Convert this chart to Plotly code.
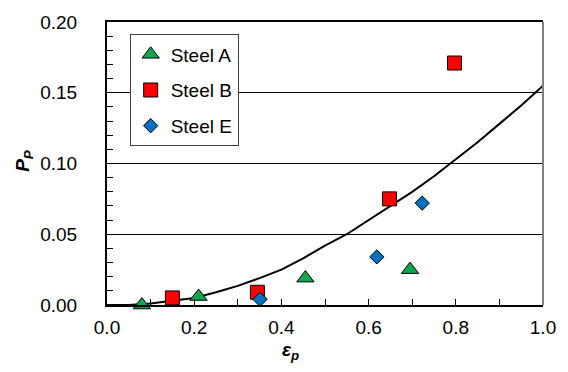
import plotly.graph_objects as go

# Steel A (triangles)
steel_a_x = [0.08, 0.21, 0.455, 0.695]
steel_a_y = [0.000, 0.006, 0.019, 0.025]
# Steel B (squares)
steel_b_x = [0.15, 0.345, 0.648, 0.797]
steel_b_y = [0.005, 0.009, 0.075, 0.171]
# Steel E (diamonds)
steel_e_x = [0.351, 0.619, 0.723]
steel_e_y = [0.004, 0.034, 0.072]
# Fitted curve
curve_x = [0.00, 0.05, 0.10, 0.15, 0.20, 0.25, 0.30, 0.35, 0.40, 0.45, 0.50,
           0.55, 0.60, 0.65, 0.70, 0.75, 0.80, 0.85, 0.90, 0.95, 1.00]
curve_y = [0.000, 0.000, 0.001, 0.003, 0.005, 0.009, 0.0135, 0.019, 0.025, 0.033, 0.042,
           0.050, 0.060, 0.070, 0.080, 0.091, 0.103, 0.115, 0.128, 0.141, 0.155]

FONT = "Liberation Sans, Arial, sans-serif"

fig = go.Figure()
fig.add_trace(go.Scatter(x=curve_x, y=curve_y, mode="lines", showlegend=False,
                         line=dict(color="black", width=2), hoverinfo="skip"))
fig.add_trace(go.Scatter(x=steel_a_x, y=steel_a_y, mode="markers", name="Steel A",
                         legendgroup="a", cliponaxis=False,
                         marker=dict(symbol="triangle-up", size=15, color="#12A550",
                                     line=dict(color="black", width=1))))
fig.add_trace(go.Scatter(x=steel_b_x, y=steel_b_y, mode="markers", name="Steel B",
                         legendgroup="b", cliponaxis=False,
                         marker=dict(symbol="square", size=14, color="#FF0000",
                                     line=dict(color="black", width=1))))
fig.add_trace(go.Scatter(x=steel_e_x, y=steel_e_y, mode="markers", name="Steel E",
                         legendgroup="e", cliponaxis=False,
                         marker=dict(symbol="diamond", size=11, color="#0070C0",
                                     line=dict(color="black", width=1))))

fig.update_layout(
    width=568, height=372,
    margin=dict(l=107, r=21, t=19, b=67),
    paper_bgcolor="white", plot_bgcolor="white",
    font=dict(family=FONT, size=19, color="black"),
    legend=dict(x=0.052, y=0.956, xanchor="left", yanchor="top",
                bgcolor="white", bordercolor="#404040", borderwidth=1,
                font=dict(size=19), tracegroupgap=8,
                itemwidth=30),
    xaxis=dict(range=[0, 1], dtick=0.2, tick0=0, tickformat=".1f",
               ticks="inside", ticklen=6, tickcolor="black",
               minor=dict(dtick=0.1, ticks="inside", ticklen=6, tickcolor="black"),
               showline=True, linecolor="black", linewidth=2, mirror=True,
               showgrid=False, zeroline=False, ticklabelstandoff=4,
               tickfont=dict(size=19)),
    yaxis=dict(range=[0, 0.2], dtick=0.05, tick0=0, tickformat=".2f",
               ticks="inside", ticklen=6, tickcolor="black",
               minor=dict(dtick=0.01, ticks="inside", ticklen=6, tickcolor="black"),
               showline=True, linecolor="black", linewidth=2,
               showgrid=True, gridcolor="black", gridwidth=1,
               zeroline=False, ticklabelstandoff=24,
               tickfont=dict(size=19)),
    shapes=[dict(type="line", xref="paper", yref="paper", x0=1, x1=1, y0=0, y1=1,
                 line=dict(color="#808080", width=2))],
    annotations=[
        dict(text="<b><i>ε</i></b><sub><b><i>p</i></b></sub>", xref="paper", yref="paper",
             x=0.42, y=-0.113, xanchor="center", yanchor="top", showarrow=False,
             font=dict(size=19)),
        dict(text="<b><i>P</i></b><sub><b><i>P</i></b></sub>", xref="paper", yref="paper",
             x=-0.19, y=0.51, xanchor="center", yanchor="middle", showarrow=False,
             textangle=-90, font=dict(size=19)),
    ],
)

fig.write_html("out.html", config={"displayModeBar": False},
               post_script="document.body.style.margin='0';")
